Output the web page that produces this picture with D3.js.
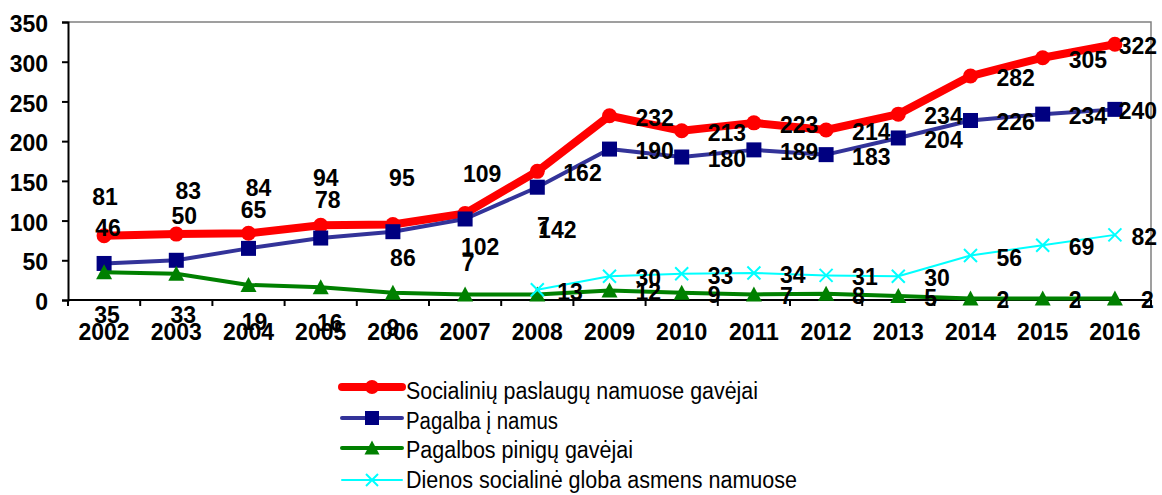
<!DOCTYPE html>
<html>
<head>
<meta charset="utf-8">
<script src="https://cdn.jsdelivr.net/npm/d3@7"></script>
<style>
  body { margin: 0; background: #fff; }
  svg { display: block; font-family: "Liberation Sans", Arial, sans-serif; }
</style>
</head>
<body>
<svg id="chart" width="1162" height="495"></svg>
<script>
// duomenys
const metai = ['2002','2003','2004','2005','2006','2007','2008','2009','2010','2011','2012','2013','2014','2015','2016']
const socialiniuGavejai = [81, 83, 84, 94, 95, 109, 162, 232, 213, 223, 214, 234, 282, 305, 322]
const pagalbaINamus = [46, 50, 65, 78, 86, 102, 142, 190, 180, 189, 183, 204, 226, 234, 240]
const piniguGavejai = [35, 33, 19, 16, 9, 7, 7, 12, 9, 7, 8, 5, 2, 2, 2]
const dienosGloba = [null, null, null, null, null, null, 13, 30, 33, 34, 31, 30, 56, 69, 82]
const yTicks = [0, 50, 100, 150, 200, 250, 300, 350]

// etikečių poslinkiai ankstyviems metams (kitur - dešinėje nuo taško)
const ankstyviPoslinkiai = {
  raudona: [[1,-39],[12,-43],[10,-45],[5,-47],[9,-47],[17,-39]],
  melyna: [[4,-35],[8,-44],[5,-38],[7,-38],[10,26],[15,28],[20,43]],
  zalia: [[3,43],[7,41],[6,37],[9,36],[0,35],[3,-31],[6,-68]],
  zydra: []
}

const serijos = [
  {key: 'raudona', name: 'Socialinių paslaugų namuose gavėjai', values: socialiniuGavejai, line: '#ff0000', width: 8, marker: 'circle', fill: '#ff0000', legendW: 352},
  {key: 'melyna', name: 'Pagalba į namus', values: pagalbaINamus, line: '#333399', width: 4, marker: 'square', fill: '#000080', legendW: 152},
  {key: 'zalia', name: 'Pagalbos pinigų gavėjai', values: piniguGavejai, line: '#008000', width: 4, marker: 'triangle', fill: '#008000', legendW: 227},
  {key: 'zydra', name: 'Dienos socialinė globa asmens namuose', values: dienosGloba, line: '#00ffff', width: 2, marker: 'x', fill: '#00ffff', legendW: 391}
]

const svg = d3.select('#chart')
const m = {left: 68, right: 1151, top: 22, bottom: 300}

const x = d3.scaleBand().domain(metai).range([m.left, m.right])
const y = d3.scaleLinear().domain([0, 350]).range([m.bottom, m.top])
const cx = d => x(d) + x.bandwidth() / 2

// rėmelis (viršus, dešinė)
svg.append('path')
  .attr('d', `M${m.left},${m.top}H${m.right}V${m.bottom}`)
  .attr('fill', 'none').attr('stroke', '#808080').attr('stroke-width', 1.5)

// Y ašis
const yAxis = svg.append('g').attr('transform', `translate(${m.left},0)`)
  .call(d3.axisLeft(y).tickValues(yTicks).tickSize(6).tickPadding(14))
yAxis.select('.domain').attr('stroke', '#000').attr('stroke-width', 2)
yAxis.selectAll('.tick line').attr('stroke', '#000').attr('stroke-width', 2)
yAxis.selectAll('.tick text')
  .attr('font-size', 23).attr('font-weight', 'bold').attr('fill', '#000')
  .attr('font-family', '"Liberation Sans", Arial, sans-serif')
  .attr('dy', '0.42em')

// X ašis
svg.append('line').attr('x1', m.left).attr('x2', m.right).attr('y1', m.bottom).attr('y2', m.bottom)
  .attr('stroke', '#000').attr('stroke-width', 2)
svg.append('g').selectAll('line')
  .data(metai.concat(['end']))
  .join('line')
  .attr('x1', (d, i) => m.left + i * x.step())
  .attr('x2', (d, i) => m.left + i * x.step())
  .attr('y1', m.bottom).attr('y2', m.bottom + 6)
  .attr('stroke', '#000').attr('stroke-width', 2)
svg.append('g').selectAll('text')
  .data(metai)
  .join('text')
  .attr('x', d => cx(d))
  .attr('y', 340)
  .attr('text-anchor', 'middle')
  .attr('font-size', 23).attr('font-weight', 'bold')
  .text(d => d)

// markeriai
function markeris(g, type, fill, size) {
  if (type === 'circle') {
    g.append('circle').attr('r', size / 2).attr('fill', fill)
  } else if (type === 'square') {
    g.append('rect').attr('x', -size / 2).attr('y', -size / 2).attr('width', size).attr('height', size).attr('fill', fill)
  } else if (type === 'triangle') {
    const h = size
    g.append('path').attr('d', `M0,${-h / 2 - 1}L${h / 2 + 1},${h / 2}L${-h / 2 - 1},${h / 2}Z`).attr('fill', fill)
  } else {
    const s = size / 2
    g.append('path').attr('d', `M${-s},${-s}L${s},${s}M${-s},${s}L${s},${-s}`)
      .attr('stroke', fill).attr('stroke-width', 2)
  }
}
const markerSize = {circle: 15, square: 15, triangle: 14, x: 13}

const line = d3.line()
  .defined(d => d.v !== null)
  .x(d => cx(d.year))
  .y(d => y(d.v))

serijos.forEach(s => {
  const pts = metai.map((yr, i) => ({year: yr, v: s.values[i]}))
  svg.append('path')
    .datum(pts)
    .attr('d', line)
    .attr('fill', 'none')
    .attr('stroke', s.line)
    .attr('stroke-width', s.width)
    .attr('stroke-linejoin', 'round')
    .attr('stroke-linecap', 'round')
  svg.append('g').selectAll('g')
    .data(pts.filter(d => d.v !== null))
    .join('g')
    .attr('transform', d => `translate(${cx(d.year)},${y(d.v)})`)
    .each(function () { markeris(d3.select(this), s.marker, s.fill, markerSize[s.marker]) })
})

// reikšmių etiketės
const etiketes = svg.append('g')
serijos.forEach(s => {
  metai.forEach((yr, i) => {
    const v = s.values[i]
    if (v === null) return
    const px = cx(yr), py = y(v)
    const off = ankstyviPoslinkiai[s.key][i]
    const t = etiketes.append('text')
      .attr('font-size', 23).attr('font-weight', 'bold').attr('fill', '#000')
      .text(v)
    if (off) {
      t.attr('x', px + off[0]).attr('y', py + off[1] + 8).attr('text-anchor', 'middle')
    } else {
      const w = t.node().getComputedTextLength()
      let lx = px + (s.key === 'zydra' && i === 6 ? 20 : 26)
      if (lx + w > 1157) lx = 1157 - w
      t.attr('x', lx).attr('y', py + 10)
    }
  })
})

// legenda
const legY = [387, 418, 448, 480]
const legBase = [399, 429, 458, 488]
serijos.forEach((s, i) => {
  const g = svg.append('g')
  g.append('line').attr('x1', 342).attr('x2', 402).attr('y1', legY[i]).attr('y2', legY[i])
    .attr('stroke', s.line).attr('stroke-width', s.width).attr('stroke-linecap', 'round')
  const mk = g.append('g').attr('transform', `translate(372,${legY[i]})`)
  markeris(mk, s.marker, s.fill, markerSize[s.marker] - 1)
  g.append('text')
    .attr('x', 406).attr('y', legBase[i])
    .attr('font-size', 23)
    .attr('textLength', s.legendW).attr('lengthAdjust', 'spacingAndGlyphs')
    .text(s.name)
})
</script>
</body>
</html>
